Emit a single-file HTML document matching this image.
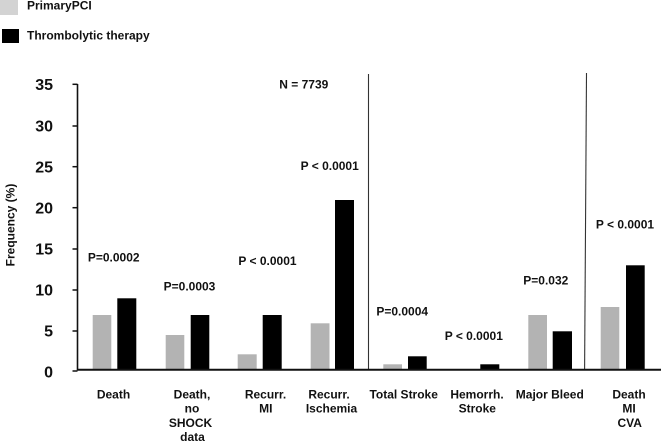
<!DOCTYPE html>
<html>
<head>
<meta charset="utf-8">
<style>
html,body{margin:0;padding:0;background:#fff;}
svg{display:block;}
text{font-family:"Liberation Sans",Arial,sans-serif;font-weight:bold;fill:#111;}
</style>
</head>
<body>
<svg width="661" height="442" viewBox="0 0 661 442" xmlns="http://www.w3.org/2000/svg">
  <!-- Legend -->
  <rect x="0" y="0" width="18" height="15" fill="#d3d3d3"/>
  <text x="27" y="9.5" font-size="12">PrimaryPCI</text>
  <rect x="2" y="29" width="17" height="14" fill="#000"/>
  <text x="27" y="39.5" font-size="12">Thrombolytic therapy</text>

  <!-- Y axis label -->
  <text transform="translate(14.3,225) rotate(-90)" text-anchor="middle" font-size="12">Frequency (%)</text>

  <!-- Y ticks and labels -->
  <g stroke="#111" stroke-width="1.5">
    <line x1="72.5" y1="84.3" x2="77.5" y2="84.3"/>
    <line x1="72.5" y1="126" x2="77.5" y2="126"/>
    <line x1="72.5" y1="166.7" x2="77.5" y2="166.7"/>
    <line x1="72.5" y1="207.7" x2="77.5" y2="207.7"/>
    <line x1="72.5" y1="249" x2="77.5" y2="249"/>
    <line x1="72.5" y1="290" x2="77.5" y2="290"/>
    <line x1="72.5" y1="331" x2="77.5" y2="331"/>
    <line x1="72.5" y1="371" x2="77.5" y2="371"/>
  </g>
  <g font-size="16" text-anchor="end">
    <text x="53" y="90">35</text>
    <text x="53" y="131.7">30</text>
    <text x="53" y="172.4">25</text>
    <text x="53" y="213.4">20</text>
    <text x="53" y="254.7">15</text>
    <text x="53" y="295.7">10</text>
    <text x="53" y="336.7">5</text>
    <text x="53" y="377.5">0</text>
  </g>

  <!-- Y axis line -->
  <line x1="77.5" y1="84" x2="77.5" y2="370.5" stroke="#111" stroke-width="1.6"/>

  <!-- Divider lines -->
  <line x1="368.5" y1="74" x2="368.5" y2="369" stroke="#333" stroke-width="1.1"/>
  <line x1="586.5" y1="73" x2="584.6" y2="369" stroke="#333" stroke-width="1.1"/>

  <!-- Bars -->
  <g fill="#b3b3b3">
    <rect x="92.7" y="315" width="18.6" height="54"/>
    <rect x="165.7" y="335" width="18.6" height="34"/>
    <rect x="237.7" y="354.3" width="19" height="14.7"/>
    <rect x="310.7" y="323.3" width="18.8" height="45.7"/>
    <rect x="383.3" y="364.3" width="18.7" height="4.7"/>
    <rect x="528.3" y="315" width="18.7" height="54"/>
    <rect x="600.7" y="307" width="18.6" height="62"/>
  </g>
  <g fill="#000">
    <rect x="117.3" y="298.3" width="19" height="70.7"/>
    <rect x="190.7" y="315" width="18.6" height="54"/>
    <rect x="262.7" y="315" width="19" height="54"/>
    <rect x="335" y="200" width="19" height="169"/>
    <rect x="408" y="356.3" width="18.7" height="12.7"/>
    <rect x="480.3" y="364.3" width="19" height="4.7"/>
    <rect x="552.7" y="331.3" width="19.3" height="37.7"/>
    <rect x="626" y="265.3" width="18.7" height="103.7"/>
  </g>

  <!-- X axis -->
  <line x1="77" y1="369.7" x2="661" y2="369.7" stroke="#111" stroke-width="2"/>

  <!-- Annotations -->
  <g font-size="12" text-anchor="middle">
    <text x="303.8" y="88.3">N = 7739</text>
    <text x="113.7" y="261.6">P=0.0002</text>
    <text x="189.5" y="290.3">P=0.0003</text>
    <text x="267.5" y="265">P &lt; 0.0001</text>
    <text x="329.7" y="170">P &lt; 0.0001</text>
    <text x="402.2" y="315.3">P=0.0004</text>
    <text x="473.8" y="340">P &lt; 0.0001</text>
    <text x="545.8" y="284.3">P=0.032</text>
    <text x="625" y="228.6">P &lt; 0.0001</text>
  </g>

  <!-- X category labels -->
  <g font-size="12" text-anchor="middle">
    <text x="113.5" y="398.3">Death</text>
    <text x="192" y="398.3">Death,</text>
    <text x="192" y="412.6">no</text>
    <text x="190.5" y="427">SHOCK</text>
    <text x="192.5" y="441">data</text>
    <text x="265.5" y="398.3">Recurr.</text>
    <text x="265.8" y="412.6">MI</text>
    <text x="329" y="398.3">Recurr.</text>
    <text x="331.5" y="412.6">Ischemia</text>
    <text x="403.7" y="398.3">Total Stroke</text>
    <text x="477" y="398.3">Hemorrh.</text>
    <text x="477.3" y="412.6">Stroke</text>
    <text x="549.8" y="398.3">Major Bleed</text>
    <text x="629" y="398.3">Death</text>
    <text x="629" y="412.6">MI</text>
    <text x="629.7" y="427">CVA</text>
  </g>
</svg>
</body>
</html>
